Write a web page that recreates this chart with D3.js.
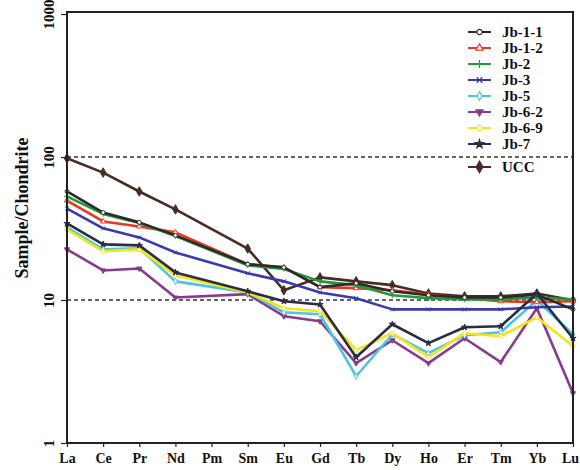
<!DOCTYPE html>
<html>
<head>
<meta charset="utf-8">
<script src="https://cdn.jsdelivr.net/npm/d3@7"></script>
<style>
  body { margin: 0; background: #fff; }
  text { font-family: "Liberation Serif", "Times New Roman", serif; }
</style>
</head>
<body>
<div id="chart"></div>
<script>
const width = 580;
const height = 470;

// REE elements (Pm has no data)
const elements = ["La", "Ce", "Pr", "Nd", "Pm", "Sm", "Eu", "Gd", "Tb", "Dy", "Ho", "Er", "Tm", "Yb", "Lu"];
const yTicks = [1, 10, 100, 1000];

// chondrite-normalized values
const jb11 = [57.4, 40.9, 34.9, 28.3, null, 17.8, 16.9, 12.3, 13.1, 11.5, 10.8, 10.4, 10.4, 10.9, 8.6];
const jb12 = [49.6, 35.4, 32.7, 29.7, null, 17.8, 16.9, 12.3, 12.1, 11.7, 10.9, 10.3, 9.8, 9.65, 9.8];
const jb2 = [53, 40, 34.5, 28.0, null, 17.5, 16.5, 13.5, 12.7, 10.8, 10.3, 10.1, 10.1, 10.4, 10.1];
const jb3 = [43.6, 31.7, 27.4, 21.5, null, 15.4, 13.5, 11.3, 10.3, 8.6, 8.6, 8.6, 8.6, 8.9, 9.0];
const jb5 = [32.2, 22.6, 23, 13.5, null, 11.3, 8.2, 7.95, 2.93, 5.76, 4.25, 5.67, 5.95, 9.95, 5.76];
const jb62 = [22.6, 16.1, 16.6, 10.4, null, 11.0, 7.7, 7.1, 3.62, 5.23, 3.62, 5.4, 3.68, 8.75, 2.23];
const jb69 = [31.2, 21.9, 22.6, 14.9, null, 11.3, 8.75, 8.35, 4.46, 5.86, 3.98, 5.86, 5.58, 7.57, 4.75];
const jb7 = [34.3, 24.5, 24.1, 15.6, null, 11.5, 9.8, 9.3, 3.98, 6.77, 4.99, 6.45, 6.55, 11.1, 5.4];
const ucc = [98, 77.8, 57.4, 43, null, 22.9, 11.7, 14.4, 13.5, 12.7, 11.1, 10.6, 10.6, 11.1, 9.95];

const series = [
  { name: "Jb-1-1", values: jb11, color: "#2b2b2b", symbol: d3.symbolCircle, fill: "#fff" },
  { name: "Jb-1-2", values: jb12, color: "#e8381e", symbol: d3.symbolTriangle, fill: "#fff" },
  { name: "Jb-2", values: jb2, color: "#1f9a3c", symbol: d3.symbolPlus, fill: "none" },
  { name: "Jb-3", values: jb3, color: "#3a3aae", symbol: d3.symbolTimes, fill: "none" },
  { name: "Jb-5", values: jb5, color: "#4cc6dc", symbol: d3.symbolDiamond, fill: "#fff" },
  { name: "Jb-6-2", values: jb62, color: "#8a3a8c", symbol: d3.symbolTriangle, fill: "#8a3a8c", rotate: 180 },
  { name: "Jb-6-9", values: jb69, color: "#f4e41a", symbol: d3.symbolCircle, fill: "#fff" },
  { name: "Jb-7", values: jb7, color: "#2c2c42", symbol: d3.symbolStar, fill: "#2c2c42" },
  { name: "UCC", values: ucc, color: "#4a2a24", symbol: d3.symbolDiamond, fill: "#4a2a24", big: true }
];

// lower lines under, dark ones over
const drawOrder = ["UCC", "Jb-6-2", "Jb-5", "Jb-6-9", "Jb-3", "Jb-1-2", "Jb-2", "Jb-1-1", "Jb-7"];

const margin = { left: 67, right: 7, top: 14, bottom: 27 };

const x = d3.scalePoint()
  .domain(elements)
  .range([margin.left, width - margin.right]);

const y = d3.scaleLog()
  .domain([1, 1000])
  .range([height - margin.bottom, margin.top]);

const svg = d3.select("#chart")
  .append("svg")
  .attr("width", width)
  .attr("height", height);

// reference dashed lines at 10 and 100
svg.append("g")
  .selectAll("line")
  .data([10, 100])
  .enter()
  .append("line")
  .attr("x1", margin.left)
  .attr("x2", width - margin.right)
  .attr("y1", d => y(d))
  .attr("y2", d => y(d))
  .attr("stroke", "#333")
  .attr("stroke-width", 1.6)
  .attr("stroke-dasharray", "4,3");

const line = d3.line()
  .x(d => x(d.el))
  .y(d => y(d.v));

const plot = svg.append("g");

drawOrder.forEach(name => {
  const s = series.find(d => d.name === name);
  const pts = elements.map((el, i) => ({ el: el, v: s.values[i] })).filter(d => d.v != null);

  plot.append("path")
    .datum(pts)
    .attr("d", line)
    .attr("fill", "none")
    .attr("stroke", s.color)
    .attr("stroke-width", 2.6)
    .attr("stroke-linejoin", "round");

  plot.append("g")
    .selectAll("path")
    .data(pts)
    .enter()
    .append("path")
    .attr("d", d3.symbol().type(s.symbol).size(s.big ? 26 : 12))
    .attr("transform", d => `translate(${x(d.el)},${y(d.v)})` + (s.rotate ? ` rotate(${s.rotate})` : ""))
    .attr("fill", s.fill)
    .attr("stroke", s.color)
    .attr("stroke-width", 1);
});

// frame
svg.append("rect")
  .attr("x", margin.left)
  .attr("y", margin.top - 2)
  .attr("width", width - margin.right - margin.left)
  .attr("height", height - margin.bottom - margin.top + 2)
  .attr("fill", "none")
  .attr("stroke", "#222")
  .attr("stroke-width", 2);

// x axis
const xAxis = svg.append("g")
  .attr("transform", `translate(0,${height - margin.bottom})`)
  .call(d3.axisBottom(x).tickSize(4).tickSizeOuter(0));
xAxis.select(".domain").remove();
xAxis.selectAll("line").attr("stroke", "#222").attr("stroke-width", 1.2);
xAxis.selectAll("text")
  .attr("dy", "0.95em")
  .attr("x", d => d === "Lu" ? -3 : 0)
  .style("font-family", "'Liberation Serif', serif")
  .style("font-weight", "bold")
  .style("font-size", "14px")
  .attr("fill", "#111");

// y axis
const yAxis = svg.append("g")
  .attr("transform", `translate(${margin.left},0)`)
  .call(d3.axisLeft(y).tickValues(yTicks).tickFormat(d3.format("d")).tickSize(6).tickSizeOuter(0));
yAxis.select(".domain").remove();
yAxis.selectAll("line").attr("stroke", "#222").attr("stroke-width", 1.2);
yAxis.selectAll("text")
  .attr("x", 0)
  .attr("dy", 0)
  .attr("transform", "translate(-13,0) rotate(-90)")
  .attr("text-anchor", "middle")
  .style("font-family", "'Liberation Serif', serif")
  .style("font-weight", "bold")
  .style("font-size", "15px")
  .attr("fill", "#111");

svg.append("text")
  .attr("transform", "translate(28,208) rotate(-90)")
  .attr("text-anchor", "middle")
  .style("font-weight", "bold")
  .style("font-size", "18px")
  .attr("fill", "#111")
  .text("Sample/Chondrite");

// legend
const legendRows = [32, 48, 64, 80, 96, 112, 128, 144, 167];
const legend = svg.append("g");
series.forEach((s, i) => {
  const g = legend.append("g").attr("transform", `translate(468,${legendRows[i]})`);
  g.append("line")
    .attr("x1", 0).attr("x2", 23)
    .attr("stroke", s.color)
    .attr("stroke-width", 2);
  g.append("path")
    .attr("d", d3.symbol().type(s.symbol).size(s.big ? 40 : 22))
    .attr("transform", "translate(11.5,0)" + (s.rotate ? ` rotate(${s.rotate})` : ""))
    .attr("fill", s.fill)
    .attr("stroke", s.color)
    .attr("stroke-width", 1.2);
  g.append("text")
    .attr("x", 34)
    .attr("dy", "0.35em")
    .style("font-size", "15px")
    .style("font-weight", "bold")
    .attr("fill", "#111")
    .text(s.name);
});
</script>
</body>
</html>
